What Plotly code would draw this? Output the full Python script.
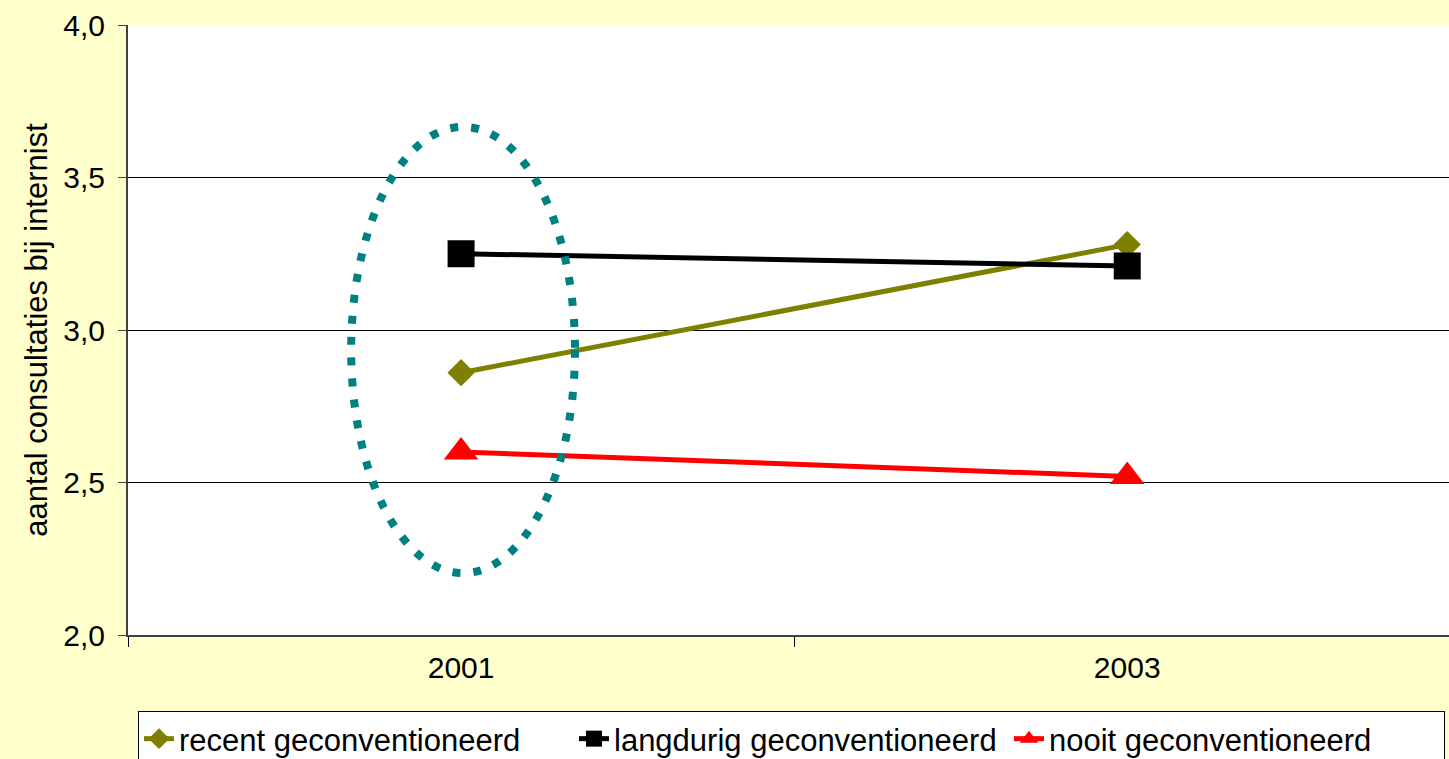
import plotly.graph_objects as go

years = ["2001", "2003"]
recent = [2.86, 3.28]
langdurig = [3.25, 3.21]
nooit = [2.60, 2.52]
series_names = ["recent geconventioneerd", "langdurig geconventioneerd", "nooit geconventioneerd"]
y_ticks = [2.0, 2.5, 3.0, 3.5, 4.0]
y_title = "aantal consultaties bij internist"

FONT = "Liberation Sans, Arial, sans-serif"

fig = go.Figure()
fig.add_trace(go.Scatter(x=years, y=recent, name=series_names[0], mode="lines+markers",
                         line=dict(color="#808000", width=5),
                         marker=dict(symbol="diamond", size=21, color="#808000")))
fig.add_trace(go.Scatter(x=years, y=langdurig, name=series_names[1], mode="lines+markers",
                         line=dict(color="#000000", width=5),
                         marker=dict(symbol="square", size=27, color="#000000")))
fig.add_trace(go.Scatter(x=years, y=nooit, name=series_names[2], mode="lines+markers",
                         line=dict(color="#FF0000", width=5),
                         marker=dict(symbol="triangle-up", size=30, color="#FF0000")))

# dotted ellipse highlighting 2001
fig.add_shape(type="circle", xref="x", yref="y", x0=-0.165, x1=0.171, y0=2.203, y1=3.666,
              line=dict(color="#008080", width=8, dash="8px,13px"), layer="above")

fig.update_layout(
    width=1449, height=759,
    paper_bgcolor="#FFFFCC", plot_bgcolor="#FFFFFF",
    margin=dict(l=128, r=0, t=25, b=124),
    separators=",.",
    font=dict(family=FONT, size=31, color="#000000"),
    showlegend=True,
    legend=dict(orientation="h", xref="container", yref="container",
                x=138/1449, xanchor="left", y=1-711/759, yanchor="top",
                bgcolor="#FFFFFF", bordercolor="#000000", borderwidth=1,
                font=dict(family=FONT, size=31, color="#000000"),
                itemwidth=30, tracegroupgap=0,
                entrywidth=390, entrywidthmode="pixels"),
)
fig.update_xaxes(type="category", categoryorder="array", categoryarray=years,
                 range=[-0.5, 1.483], tickson="boundaries", ticks="outside", ticklen=10,
                 tickcolor="#000000", showgrid=False, showline=True, linecolor="#404040",
                 linewidth=2, tickfont=dict(size=30), ticklabelstandoff=5, zeroline=False)
fig.update_yaxes(range=[2, 4], tickvals=y_ticks, tickformat=".1f", ticks="outside",
                 ticklen=8, tickcolor="#404040", showgrid=True, gridcolor="#000000",
                 gridwidth=1, showline=True, linecolor="#404040", linewidth=2,
                 zeroline=False, tickfont=dict(size=30), ticklabelstandoff=7,
                 title=dict(text=y_title, font=dict(size=31), standoff=6))

fig.write_html("out.html", config={"displayModeBar": False},
               post_script="document.body.style.margin='0';document.body.style.padding='0';")
